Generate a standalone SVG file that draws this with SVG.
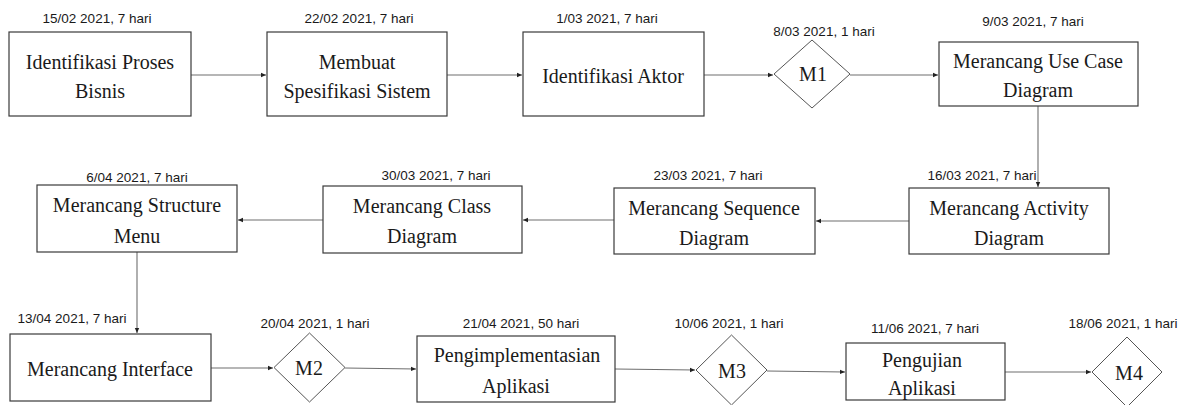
<svg xmlns="http://www.w3.org/2000/svg" width="1187" height="405" viewBox="0 0 1187 405">
<style>
.box{fill:#fff;stroke:#3a3a3a;stroke-width:1.2}
.dia{fill:#fff;stroke:#555;stroke-width:1}
.t{font-family:"Liberation Serif","Times New Roman",serif;font-size:20px;fill:#1a1a1a;text-anchor:middle}
.d{font-family:"Liberation Sans",Arial,sans-serif;font-size:13.5px;fill:#1a1a1a;text-anchor:middle}
.c{fill:none;stroke:#6e6e6e;stroke-width:1.1}
</style>
<defs>
<marker id="ah" markerUnits="userSpaceOnUse" markerWidth="6" markerHeight="6" refX="5" refY="3" orient="auto">
<path d="M0,0.8 L5,3 L0,5.2 Z" fill="#222"/>
</marker>
</defs>
<rect width="1187" height="405" fill="#fff"/>
<g id="connectors">
<path class="c" d="M191,75 L266,75" marker-end="url(#ah)"/>
<path class="c" d="M447,75 L522,75" marker-end="url(#ah)"/>
<path class="c" d="M704,75 L773,75" marker-end="url(#ah)"/>
<path class="c" d="M850,75 L938,75" marker-end="url(#ah)"/>
<path class="c" d="M1038,106 L1038,187" marker-end="url(#ah)"/>
<path class="c" d="M909,221 L816,221" marker-end="url(#ah)"/>
<path class="c" d="M614,220 L523,220" marker-end="url(#ah)"/>
<path class="c" d="M323,220 L238,220" marker-end="url(#ah)"/>
<path class="c" d="M137,252 L137,333" marker-end="url(#ah)"/>
<path class="c" d="M211,368 L273,368" marker-end="url(#ah)"/>
<path class="c" d="M345,368 L416,369" marker-end="url(#ah)"/>
<path class="c" d="M615,369 L695,370" marker-end="url(#ah)"/>
<path class="c" d="M767,371 L845,372" marker-end="url(#ah)"/>
<path class="c" d="M1005,372 L1091,372" marker-end="url(#ah)"/>
</g>
<g id="n1">
<text class="d" x="97" y="23">15/02 2021, 7 hari</text>
<rect class="box" x="9" y="32" width="182" height="84"/>
<text class="t" x="100" y="69">Identifikasi Proses</text>
<text class="t" x="100" y="98">Bisnis</text>
</g>
<g id="n2">
<text class="d" x="359" y="23">22/02 2021, 7 hari</text>
<rect class="box" x="267" y="32" width="180" height="84"/>
<text class="t" x="357" y="69">Membuat</text>
<text class="t" x="357" y="98">Spesifikasi Sistem</text>
</g>
<g id="n3">
<text class="d" x="607" y="23">1/03 2021, 7 hari</text>
<rect class="box" x="523" y="32" width="181" height="84"/>
<text class="t" x="613" y="83">Identifikasi Aktor</text>
</g>
<g id="m1">
<text class="d" x="824" y="36">8/03 2021, 1 hari</text>
<polygon class="dia" points="812,40 850,74 812,108 774,74"/>
<text class="t" x="813" y="81">M1</text>
</g>
<g id="n4">
<text class="d" x="1033" y="26">9/03 2021, 7 hari</text>
<rect class="box" x="939" y="42" width="199" height="64"/>
<text class="t" x="1038" y="68">Merancang Use Case</text>
<text class="t" x="1038" y="97">Diagram</text>
</g>
<g id="n5">
<text class="d" x="982" y="180">16/03 2021, 7 hari</text>
<rect class="box" x="909" y="188" width="200" height="66"/>
<text class="t" x="1009" y="215">Merancang Activity</text>
<text class="t" x="1009" y="245">Diagram</text>
</g>
<g id="n6">
<text class="d" x="708" y="180">23/03 2021, 7 hari</text>
<rect class="box" x="614" y="188" width="201" height="66"/>
<text class="t" x="714" y="215">Merancang Sequence</text>
<text class="t" x="714" y="245">Diagram</text>
</g>
<g id="n7">
<text class="d" x="436" y="180">30/03 2021, 7 hari</text>
<rect class="box" x="323" y="186" width="199" height="67"/>
<text class="t" x="422" y="213">Merancang Class</text>
<text class="t" x="422" y="243">Diagram</text>
</g>
<g id="n8">
<text class="d" x="137" y="182">6/04 2021, 7 hari</text>
<rect class="box" x="37" y="185" width="200" height="67"/>
<text class="t" x="137" y="212">Merancang Structure</text>
<text class="t" x="137" y="243">Menu</text>
</g>
<g id="n9">
<text class="d" x="72" y="323">13/04 2021, 7 hari</text>
<rect class="box" x="10" y="334" width="201" height="67"/>
<text class="t" x="110" y="376">Merancang Interface</text>
</g>
<g id="m2">
<text class="d" x="315" y="328">20/04 2021, 1 hari</text>
<polygon class="dia" points="309.5,333 345,367.5 309.5,402 274,367.5"/>
<text class="t" x="309" y="375">M2</text>
</g>
<g id="n10">
<text class="d" x="521" y="328">21/04 2021, 50 hari</text>
<rect class="box" x="417" y="336" width="198" height="66"/>
<text class="t" x="517" y="362">Pengimplementasian</text>
<text class="t" x="516" y="393">Aplikasi</text>
</g>
<g id="m3">
<text class="d" x="729" y="328">10/06 2021, 1 hari</text>
<polygon class="dia" points="731.5,335 767,370 731.5,405 696,370"/>
<text class="t" x="732" y="378">M3</text>
</g>
<g id="n11">
<text class="d" x="925" y="333">11/06 2021, 7 hari</text>
<rect class="box" x="846" y="343" width="159" height="57"/>
<text class="t" x="922" y="367">Pengujian</text>
<text class="t" x="922" y="395">Aplikasi</text>
</g>
<g id="m4">
<text class="d" x="1123" y="328">18/06 2021, 1 hari</text>
<polygon class="dia" points="1127,337 1162,372 1127,407 1092,372"/>
<text class="t" x="1129" y="380">M4</text>
</g>
</svg>
